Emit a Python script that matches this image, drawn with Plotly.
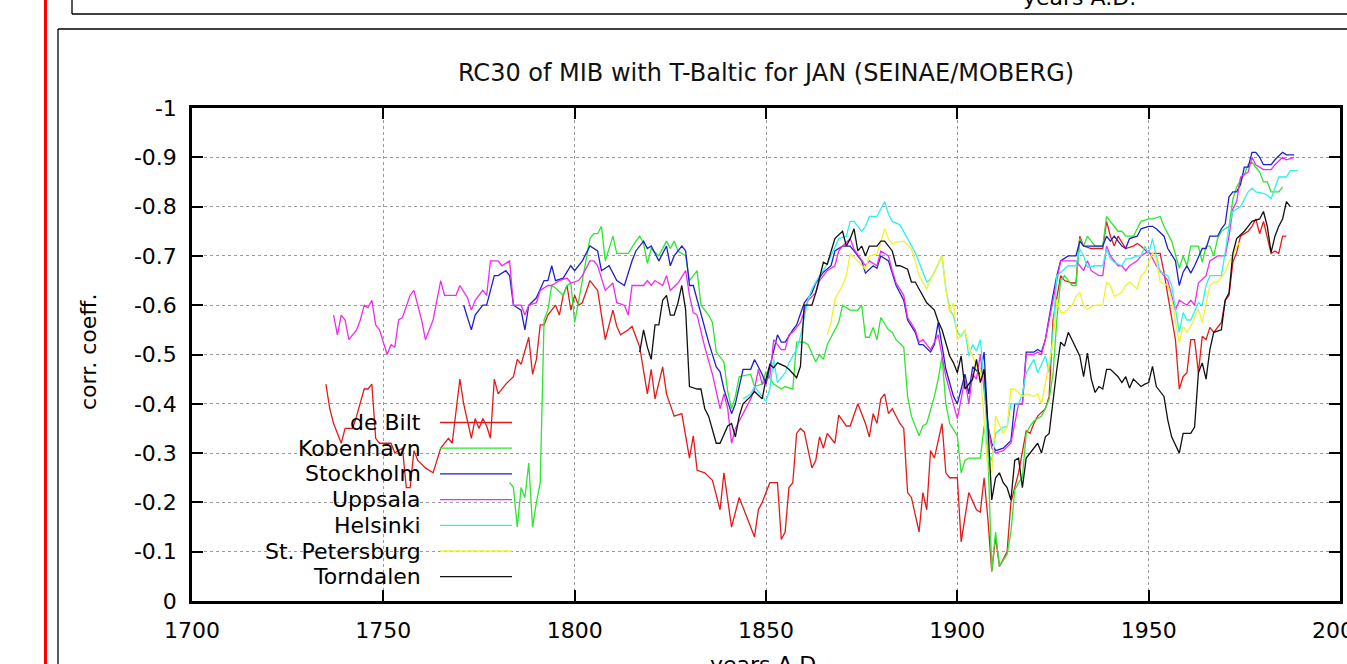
import plotly.graph_objects as go

# ---------------- data ----------------
X_TICKS = [1700, 1750, 1800, 1850, 1900, 1950, 2000]
X_TICK_TEXT = ["1700", "1750", "1800", "1850", "1900", "1950", "2000"]
Y_TICKS = [0, -0.1, -0.2, -0.3, -0.4, -0.5, -0.6, -0.7, -0.8, -0.9, -1]
Y_TICK_TEXT = ["0", "-0.1", "-0.2", "-0.3", "-0.4", "-0.5", "-0.6", "-0.7", "-0.8", "-0.9", "-1"]

SERIES_NAMES = ["de Bilt", "Kobenhavn", "Stockholm", "Uppsala", "Helsinki", "St. Petersburg", "Torndalen"]

DEBILT_YEARS = [1735,1736,1737,1739,1740,1742,1743,1744,1745,1746,
 1747,1748,1749,1750,1752,1753,1755,1756,1757,1758,
 1759,1761,1762,1763,1765,1767,1768,1769,1770,1771,
 1773,1774,1775,1776,1777,1778,1779,1780,1781,1782,
 1784,1785,1786,1788,1789,1790,1791,1792,1793,1795,
 1796,1797,1798,1799,1800,1801,1802,1804,1806,1808,
 1810,1811,1812,1814,1815,1817,1819,1820,1821,1823,
 1824,1826,1828,1830,1831,1832,1834,1836,1838,1839,
 1841,1842,1843,1845,1847,1848,1849,1851,1853,1854,
 1855,1856,1857,1858,1859,1860,1862,1863,1864,1865,
 1866,1868,1869,1871,1872,1874,1876,1877,1878,1879,
 1880,1881,1882,1883,1885,1886,1887,1888,1890,1891,
 1892,1893,1894,1896,1897,1898,1900,1901,1903,1905,
 1906,1907,1908,1909,1910,1911,1913,1914,1915,1916,
 1918,1919,1920,1921,1923,1924,1925,1927,1928,1930,
 1931,1932,1933,1935,1938,1939,1940,1941,1942,1944,
 1946,1947,1948,1950,1953,1954,1955,1957,1958,1959,
 1960,1961,1962,1963,1964,1965,1966,1967,1969,1970,
 1971,1972,1973,1974,1976,1977,1978,1979,1980,1981,
 1982,1983,1984,1985,1986]
DEBILT = [-0.44,-0.39,-0.36,-0.32,-0.35,-0.35,-0.375,-0.40,-0.43,-0.43,
 -0.44,-0.33,-0.32,-0.32,-0.32,-0.30,-0.31,-0.23,-0.23,-0.305,
 -0.285,-0.27,-0.265,-0.26,-0.31,-0.33,-0.32,-0.39,-0.45,-0.40,
 -0.33,-0.37,-0.35,-0.37,-0.355,-0.33,-0.45,-0.42,-0.43,-0.44,
 -0.455,-0.49,-0.48,-0.535,-0.46,-0.49,-0.56,-0.56,-0.58,-0.60,
 -0.58,-0.62,-0.64,-0.59,-0.62,-0.60,-0.605,-0.65,-0.63,-0.53,
 -0.59,-0.557,-0.54,-0.55,-0.557,-0.515,-0.42,-0.47,-0.41,-0.475,
 -0.42,-0.375,-0.38,-0.29,-0.335,-0.265,-0.26,-0.245,-0.185,-0.26,
 -0.15,-0.18,-0.21,-0.17,-0.13,-0.185,-0.20,-0.24,-0.24,-0.125,
 -0.14,-0.23,-0.24,-0.34,-0.35,-0.343,-0.27,-0.285,-0.333,-0.31,
 -0.34,-0.32,-0.377,-0.355,-0.355,-0.40,-0.36,-0.333,-0.38,-0.36,
 -0.41,-0.42,-0.38,-0.39,-0.36,-0.35,-0.22,-0.21,-0.14,-0.22,
 -0.185,-0.305,-0.29,-0.36,-0.26,-0.25,-0.25,-0.12,-0.22,-0.185,
 -0.18,-0.25,-0.165,-0.06,-0.13,-0.07,-0.10,-0.20,-0.23,-0.26,
 -0.345,-0.34,-0.36,-0.375,-0.39,-0.415,-0.57,-0.66,-0.65,-0.645,
 -0.645,-0.74,-0.72,-0.715,-0.715,-0.77,-0.74,-0.72,-0.74,-0.715,
 -0.72,-0.725,-0.72,-0.705,-0.705,-0.667,-0.62,-0.53,-0.43,-0.455,
 -0.463,-0.53,-0.53,-0.463,-0.537,-0.53,-0.555,-0.545,-0.565,-0.61,
 -0.62,-0.687,-0.707,-0.74,-0.75,-0.76,-0.775,-0.745,-0.77,-0.735,
 -0.705,-0.71,-0.705,-0.74,-0.74]

KOBENHAVN_YEARS = [1783,1784,1785,1786,1787,1788,1789,1790,1791,1792,
 1793,1794,1795,1797,1798,1799,1800,1801,1802,1804,
 1805,1806,1807,1808,1810,1811,1813,1814,1816,1817,
 1818,1819,1820,1822,1824,1825,1826,1827,1829,1830,
 1832,1833,1835,1836,1837,1839,1840,1841,1842,1843,
 1846,1847,1849,1850,1852,1854,1855,1857,1858,1860,
 1861,1863,1864,1865,1866,1867,1869,1870,1872,1874,
 1875,1876,1877,1878,1879,1880,1882,1883,1884,1886,
 1887,1888,1890,1891,1892,1894,1895,1896,1897,1898,
 1900,1901,1902,1903,1905,1906,1907,1908,1909,1910,
 1911,1913,1914,1915,1916,1917,1918,1919,1920,1922,
 1923,1924,1925,1926,1927,1928,1929,1930,1931,1932,
 1933,1934,1936,1938,1939,1940,1942,1943,1944,1946,
 1947,1948,1950,1951,1953,1954,1956,1958,1959,1960,
 1961,1963,1964,1965,1966,1967,1968,1969,1970,1971,
 1972,1973,1975,1976,1977,1979,1980,1981,1982,1984,
 1985]
KOBENHAVN = [-0.24,-0.23,-0.15,-0.23,-0.21,-0.28,-0.15,-0.20,-0.24,-0.57,
 -0.59,-0.64,-0.635,-0.62,-0.64,-0.645,-0.565,-0.605,-0.65,-0.735,
 -0.745,-0.745,-0.76,-0.69,-0.74,-0.705,-0.705,-0.705,-0.73,-0.74,
 -0.725,-0.685,-0.715,-0.70,-0.73,-0.715,-0.73,-0.71,-0.70,-0.65,
 -0.67,-0.60,-0.58,-0.565,-0.505,-0.485,-0.425,-0.39,-0.415,-0.455,
 -0.46,-0.435,-0.44,-0.465,-0.44,-0.43,-0.435,-0.43,-0.525,-0.525,
 -0.52,-0.485,-0.50,-0.49,-0.52,-0.535,-0.565,-0.60,-0.59,-0.59,
 -0.60,-0.535,-0.535,-0.555,-0.53,-0.575,-0.55,-0.545,-0.53,-0.515,
 -0.415,-0.375,-0.335,-0.355,-0.36,-0.415,-0.45,-0.495,-0.40,-0.36,
 -0.335,-0.26,-0.285,-0.29,-0.29,-0.29,-0.355,-0.30,-0.06,-0.14,
 -0.07,-0.095,-0.14,-0.225,-0.24,-0.25,-0.34,-0.355,-0.365,-0.375,
 -0.39,-0.41,-0.46,-0.57,-0.65,-0.66,-0.65,-0.64,-0.64,-0.735,
 -0.72,-0.74,-0.72,-0.72,-0.78,-0.77,-0.75,-0.75,-0.74,-0.74,
 -0.755,-0.77,-0.775,-0.775,-0.78,-0.76,-0.73,-0.675,-0.70,-0.68,
 -0.72,-0.72,-0.687,-0.72,-0.72,-0.70,-0.735,-0.75,-0.755,-0.76,
 -0.815,-0.84,-0.865,-0.885,-0.89,-0.87,-0.85,-0.85,-0.83,-0.83,
 -0.84]

STOCKHOLM_YEARS = [1771,1773,1774,1776,1777,1779,1780,1782,1783,1784,
 1786,1787,1788,1790,1792,1793,1794,1795,1797,1799,
 1800,1802,1804,1806,1807,1809,1811,1813,1815,1816,
 1818,1819,1820,1822,1824,1825,1826,1828,1829,1830,
 1831,1833,1835,1837,1838,1839,1841,1842,1844,1846,
 1847,1849,1850,1851,1853,1854,1855,1857,1858,1860,
 1862,1863,1865,1867,1868,1870,1872,1873,1875,1876,
 1878,1879,1880,1882,1883,1884,1886,1887,1889,1890,
 1891,1893,1894,1895,1897,1899,1900,1902,1903,1904,
 1906,1907,1908,1909,1910,1912,1914,1915,1917,1918,
 1920,1921,1922,1923,1925,1926,1927,1929,1931,1932,
 1933,1935,1938,1939,1940,1941,1943,1944,1945,1947,
 1948,1950,1951,1952,1954,1955,1957,1958,1959,1960,
 1961,1962,1964,1965,1966,1968,1969,1970,1971,1972,
 1973,1974,1975,1976,1977,1978,1979,1980,1982,1983,
 1985,1986,1988]
STOCKHOLM = [-0.60,-0.55,-0.58,-0.60,-0.60,-0.66,-0.66,-0.67,-0.66,-0.60,
 -0.59,-0.55,-0.60,-0.615,-0.65,-0.65,-0.68,-0.65,-0.655,-0.68,
 -0.67,-0.69,-0.72,-0.71,-0.67,-0.68,-0.65,-0.64,-0.69,-0.71,
 -0.73,-0.715,-0.72,-0.69,-0.72,-0.68,-0.70,-0.72,-0.71,-0.64,
 -0.64,-0.58,-0.525,-0.475,-0.465,-0.43,-0.38,-0.40,-0.47,-0.47,
 -0.49,-0.46,-0.44,-0.475,-0.54,-0.525,-0.525,-0.55,-0.56,-0.605,
 -0.625,-0.645,-0.667,-0.68,-0.71,-0.72,-0.72,-0.71,-0.69,-0.665,
 -0.68,-0.675,-0.70,-0.69,-0.665,-0.64,-0.61,-0.57,-0.545,-0.52,
 -0.52,-0.505,-0.52,-0.565,-0.47,-0.415,-0.40,-0.46,-0.42,-0.475,
 -0.46,-0.505,-0.355,-0.32,-0.305,-0.31,-0.325,-0.40,-0.40,-0.505,
 -0.505,-0.51,-0.505,-0.53,-0.62,-0.66,-0.69,-0.70,-0.70,-0.73,
 -0.72,-0.72,-0.72,-0.74,-0.73,-0.74,-0.72,-0.715,-0.735,-0.74,
 -0.755,-0.76,-0.76,-0.755,-0.74,-0.715,-0.69,-0.64,-0.667,-0.68,
 -0.665,-0.68,-0.715,-0.715,-0.74,-0.74,-0.755,-0.765,-0.82,-0.83,
 -0.83,-0.845,-0.88,-0.88,-0.91,-0.91,-0.90,-0.885,-0.885,-0.895,
 -0.91,-0.905,-0.905]

UPPSALA_YEARS = [1737,1738,1739,1740,1741,1743,1744,1745,1746,1747,
 1748,1749,1751,1752,1753,1754,1755,1757,1758,1760,
 1761,1763,1765,1766,1769,1770,1772,1773,1774,1776,
 1777,1778,1780,1781,1783,1784,1786,1787,1788,1790,
 1791,1793,1794,1796,1798,1799,1801,1802,1804,1805,
 1806,1808,1810,1811,1813,1814,1815,1818,1819,1820,
 1821,1823,1824,1825,1827,1829,1830,1831,1832,1834,
 1836,1838,1839,1840,1841,1842,1844,1846,1847,1848,
 1849,1851,1852,1854,1855,1856,1857,1859,1861,1863,
 1864,1866,1868,1869,1870,1872,1873,1875,1876,1877,
 1879,1880,1882,1883,1884,1886,1887,1889,1890,1891,
 1893,1894,1895,1897,1899,1900,1902,1903,1904,1905,
 1906,1908,1909,1910,1912,1914,1915,1916,1917,1918,
 1920,1921,1922,1923,1925,1926,1927,1929,1930,1931,
 1933,1934,1935,1937,1938,1939,1940,1942,1943,1944,
 1945,1947,1948,1950,1952,1953,1955,1957,1958,1960,
 1961,1962,1963,1965,1966,1968,1970,1971,1972,1973,
 1974,1976,1977,1978,1980,1982,1983,1985,1986,1988]
UPPSALA = [-0.58,-0.54,-0.58,-0.57,-0.53,-0.55,-0.57,-0.60,-0.595,-0.61,
 -0.56,-0.55,-0.50,-0.52,-0.515,-0.57,-0.575,-0.62,-0.63,-0.57,
 -0.53,-0.57,-0.65,-0.62,-0.62,-0.64,-0.615,-0.59,-0.61,-0.63,
 -0.62,-0.69,-0.69,-0.68,-0.69,-0.60,-0.60,-0.58,-0.60,-0.605,
 -0.63,-0.64,-0.64,-0.65,-0.655,-0.645,-0.65,-0.66,-0.69,-0.69,
 -0.68,-0.63,-0.645,-0.605,-0.60,-0.58,-0.64,-0.64,-0.65,-0.64,
 -0.65,-0.64,-0.66,-0.63,-0.645,-0.67,-0.62,-0.585,-0.58,-0.515,
 -0.46,-0.39,-0.42,-0.39,-0.32,-0.35,-0.38,-0.41,-0.43,-0.47,
 -0.44,-0.455,-0.53,-0.51,-0.51,-0.54,-0.545,-0.565,-0.61,-0.625,
 -0.65,-0.67,-0.68,-0.71,-0.72,-0.735,-0.714,-0.69,-0.68,-0.69,
 -0.68,-0.71,-0.70,-0.67,-0.645,-0.62,-0.575,-0.55,-0.525,-0.53,
 -0.51,-0.525,-0.54,-0.455,-0.395,-0.37,-0.45,-0.40,-0.46,-0.45,
 -0.50,-0.355,-0.31,-0.30,-0.305,-0.32,-0.36,-0.40,-0.40,-0.50,
 -0.50,-0.505,-0.50,-0.53,-0.61,-0.65,-0.69,-0.69,-0.69,-0.69,
 -0.67,-0.69,-0.67,-0.66,-0.66,-0.72,-0.70,-0.68,-0.68,-0.67,
 -0.68,-0.69,-0.70,-0.71,-0.68,-0.67,-0.65,-0.59,-0.61,-0.60,
 -0.61,-0.60,-0.645,-0.66,-0.69,-0.70,-0.70,-0.74,-0.795,-0.81,
 -0.86,-0.87,-0.90,-0.885,-0.875,-0.875,-0.885,-0.90,-0.895,-0.90]

HELSINKI_YEARS = [1844,1846,1847,1849,1850,1851,1852,1853,1855,1856,
 1858,1859,1861,1862,1864,1866,1868,1869,1871,1872,
 1873,1875,1876,1877,1879,1880,1881,1882,1883,1885,
 1887,1889,1890,1892,1893,1894,1896,1897,1898,1899,
 1900,1901,1902,1903,1904,1905,1906,1907,1908,1909,
 1910,1912,1913,1914,1916,1917,1918,1920,1921,1923,
 1924,1925,1926,1927,1929,1930,1931,1932,1933,1934,
 1936,1938,1939,1940,1941,1943,1944,1945,1947,1948,
 1949,1950,1951,1952,1953,1955,1956,1958,1959,1960,
 1961,1963,1964,1965,1966,1968,1969,1970,1971,1972,
 1974,1975,1976,1977,1978,1980,1981,1982,1983,1984,
 1986,1987,1989]
HELSINKI = [-0.41,-0.42,-0.435,-0.415,-0.405,-0.43,-0.49,-0.443,-0.463,-0.483,
 -0.51,-0.537,-0.612,-0.633,-0.66,-0.683,-0.718,-0.735,-0.74,-0.77,
 -0.77,-0.75,-0.76,-0.78,-0.78,-0.795,-0.81,-0.785,-0.77,-0.763,
 -0.735,-0.707,-0.687,-0.647,-0.653,-0.667,-0.70,-0.633,-0.592,-0.578,
 -0.545,-0.537,-0.55,-0.497,-0.52,-0.507,-0.53,-0.45,-0.30,-0.285,
 -0.34,-0.353,-0.353,-0.40,-0.40,-0.42,-0.463,-0.49,-0.463,-0.497,
 -0.463,-0.545,-0.66,-0.667,-0.68,-0.68,-0.68,-0.714,-0.70,-0.677,
 -0.68,-0.68,-0.714,-0.694,-0.687,-0.68,-0.694,-0.694,-0.70,-0.70,
 -0.72,-0.704,-0.735,-0.70,-0.667,-0.66,-0.64,-0.545,-0.585,-0.57,
 -0.57,-0.605,-0.60,-0.64,-0.66,-0.66,-0.66,-0.707,-0.76,-0.79,
 -0.80,-0.815,-0.83,-0.837,-0.83,-0.827,-0.823,-0.816,-0.837,-0.86,
 -0.86,-0.873,-0.873]

PETERSBURG_YEARS = [1866,1867,1868,1870,1871,1872,1873,1875,1876,1877,
 1879,1880,1881,1882,1883,1884,1886,1888,1889,1890,
 1892,1893,1894,1896,1897,1898,1899,1900,1902,1903,
 1904,1905,1906,1908,1909,1910,1912,1913,1914,1915,
 1917,1918,1920,1921,1922,1923,1925,1926,1927,1928,
 1930,1931,1932,1933,1934,1936,1938,1939,1940,1941,
 1943,1944,1945,1947,1948,1949,1951,1952,1953,1955,
 1956,1958,1959,1960,1961,1963,1964,1966,1967,1968,
 1970,1971,1972,1973,1974]
PETERSBURG = [-0.54,-0.565,-0.612,-0.64,-0.66,-0.704,-0.698,-0.68,-0.673,-0.70,
 -0.704,-0.728,-0.755,-0.735,-0.724,-0.728,-0.73,-0.714,-0.69,-0.66,
 -0.633,-0.653,-0.667,-0.70,-0.633,-0.585,-0.605,-0.53,-0.55,-0.517,
 -0.497,-0.476,-0.47,-0.265,-0.26,-0.375,-0.34,-0.353,-0.43,-0.43,
 -0.415,-0.42,-0.415,-0.42,-0.40,-0.443,-0.525,-0.612,-0.585,-0.585,
 -0.60,-0.618,-0.626,-0.60,-0.592,-0.60,-0.60,-0.647,-0.64,-0.618,
 -0.626,-0.64,-0.647,-0.633,-0.66,-0.667,-0.707,-0.694,-0.647,-0.64,
 -0.612,-0.524,-0.557,-0.545,-0.557,-0.592,-0.565,-0.64,-0.647,-0.647,
 -0.667,-0.687,-0.70,-0.72,-0.728]

TORNDALEN_YEARS = [1817,1818,1819,1820,1821,1822,1823,1824,1825,1826,
 1827,1828,1829,1830,1832,1833,1834,1835,1837,1838,
 1840,1841,1842,1843,1844,1846,1847,1849,1850,1851,
 1852,1853,1855,1856,1858,1859,1860,1862,1863,1865,
 1866,1867,1868,1870,1871,1872,1873,1874,1875,1876,
 1877,1879,1880,1881,1883,1884,1885,1887,1888,1889,
 1890,1892,1894,1895,1896,1898,1899,1900,1901,1902,
 1904,1905,1906,1907,1908,1909,1910,1911,1912,1913,
 1914,1915,1916,1917,1918,1920,1921,1922,1923,1924,
 1925,1926,1927,1928,1929,1930,1932,1933,1934,1935,
 1936,1937,1938,1939,1940,1942,1943,1944,1945,1946,
 1948,1949,1950,1951,1952,1954,1955,1956,1958,1959,
 1961,1962,1963,1964,1965,1966,1967,1969,1970,1971,
 1972,1973,1975,1976,1977,1979,1980,1981,1982,1983,
 1984,1985,1986,1987]
TORNDALEN = [-0.505,-0.55,-0.515,-0.49,-0.56,-0.56,-0.61,-0.62,-0.58,-0.58,
 -0.605,-0.64,-0.59,-0.435,-0.43,-0.43,-0.39,-0.375,-0.32,-0.32,
 -0.355,-0.36,-0.333,-0.375,-0.40,-0.415,-0.425,-0.41,-0.45,-0.48,
 -0.473,-0.483,-0.476,-0.47,-0.453,-0.476,-0.60,-0.60,-0.625,-0.687,
 -0.683,-0.707,-0.735,-0.75,-0.72,-0.735,-0.755,-0.71,-0.72,-0.70,
 -0.72,-0.72,-0.73,-0.73,-0.71,-0.68,-0.68,-0.673,-0.647,-0.647,
 -0.633,-0.605,-0.59,-0.567,-0.55,-0.497,-0.483,-0.463,-0.497,-0.43,
 -0.45,-0.49,-0.443,-0.47,-0.353,-0.205,-0.25,-0.26,-0.24,-0.23,
 -0.205,-0.285,-0.29,-0.23,-0.29,-0.31,-0.32,-0.30,-0.333,-0.34,
 -0.408,-0.47,-0.525,-0.517,-0.545,-0.53,-0.497,-0.455,-0.503,-0.45,
 -0.423,-0.435,-0.43,-0.47,-0.47,-0.455,-0.443,-0.455,-0.432,-0.45,
 -0.435,-0.44,-0.443,-0.476,-0.435,-0.415,-0.367,-0.333,-0.30,-0.34,
 -0.34,-0.353,-0.463,-0.483,-0.45,-0.51,-0.545,-0.55,-0.61,-0.625,
 -0.705,-0.735,-0.75,-0.76,-0.77,-0.775,-0.79,-0.76,-0.707,-0.74,
 -0.76,-0.775,-0.81,-0.80]

# ---------------- styling / layout ----------------
COLORS = ["#e41a1a", "#2ee62e", "#1f1fcc", "#ee2cee", "#2ef0f0", "#f2f22a", "#111111"]
FONT = "DejaVu Sans"

W, H = 1347, 664
PL, PR, PT, PB = 192, 1340, 108, 601  # plot area box, in pixels


def px(xp):
    return (xp - PL) / (PR - PL)


def py(yp):
    return (PB - yp) / (PB - PT)


fig = go.Figure()
series = [
    (DEBILT_YEARS, DEBILT),
    (KOBENHAVN_YEARS, KOBENHAVN),
    (STOCKHOLM_YEARS, STOCKHOLM),
    (UPPSALA_YEARS, UPPSALA),
    (HELSINKI_YEARS, HELSINKI),
    (PETERSBURG_YEARS, PETERSBURG),
    (TORNDALEN_YEARS, TORNDALEN),
]
for name, (xs, ys), col in zip(SERIES_NAMES, series, COLORS):
    fig.add_trace(go.Scatter(x=xs, y=ys, mode="lines", name=name,
                             line=dict(color=col, width=1.3), showlegend=False))

axis_common = dict(
    showline=True, linecolor="black", linewidth=2.5, mirror="ticks",
    ticks="inside", ticklen=11, tickwidth=2, tickcolor="black",
    showgrid=True, gridcolor="#9a9a9a", gridwidth=1, griddash="dot",
    zeroline=False, tickfont=dict(family=FONT, size=22, color="black"),
    ticklabeloverflow="allow", automargin=False,
)
fig.update_xaxes(range=[1700, 2000], tickvals=X_TICKS, ticktext=X_TICK_TEXT,
                 ticklabelstandoff=8, **axis_common)
fig.update_yaxes(range=[0, -1], tickvals=Y_TICKS, ticktext=Y_TICK_TEXT,
                 ticklabelstandoff=8, **axis_common)

shapes = []
# red page margin line
shapes.append(dict(type="line", xref="paper", yref="paper", x0=px(45.5), x1=px(45.5),
                   y0=py(0), y1=py(664), line=dict(color="#ff0000", width=3)))
# previous figure frame (bottom edge)
shapes.append(dict(type="line", xref="paper", yref="paper", x0=px(72), x1=px(72),
                   y0=py(0), y1=py(14), line=dict(color="black", width=1.3)))
shapes.append(dict(type="line", xref="paper", yref="paper", x0=px(72), x1=px(1347),
                   y0=py(14), y1=py(14), line=dict(color="black", width=1.3)))
# this figure frame
shapes.append(dict(type="line", xref="paper", yref="paper", x0=px(58), x1=px(58),
                   y0=py(29), y1=py(664), line=dict(color="black", width=1.3)))
shapes.append(dict(type="line", xref="paper", yref="paper", x0=px(58), x1=px(1347),
                   y0=py(29), y1=py(29), line=dict(color="black", width=1.3)))

annotations = []
LEG_TEXT_RIGHT, LEG_X0, LEG_X1, LEG_Y0, LEG_DY = 423, 440, 512, 422.5, 25.7
for i, (name, col) in enumerate(zip(SERIES_NAMES, COLORS)):
    yy = LEG_Y0 + i * LEG_DY
    shapes.append(dict(type="line", xref="paper", yref="paper", x0=px(LEG_X0), x1=px(LEG_X1),
                       y0=py(yy), y1=py(yy), line=dict(color=col, width=1.3)))
    annotations.append(dict(text=name, xref="paper", yref="paper", x=px(LEG_TEXT_RIGHT), y=py(yy),
                            xanchor="right", yanchor="middle", showarrow=False,
                            font=dict(family=FONT, size=22, color="black")))

annotations.append(dict(text="corr. coeff.", xref="paper", yref="paper", x=px(88), y=py(352),
                        xanchor="center", yanchor="middle", textangle=-90, showarrow=False,
                        font=dict(family=FONT, size=22, color="black")))
annotations.append(dict(text="years A.D.", xref="paper", yref="paper", x=px(766), y=py(664),
                        xanchor="center", yanchor="middle", showarrow=False,
                        font=dict(family=FONT, size=22, color="black")))
annotations.append(dict(text="years A.D.", xref="paper", yref="paper", x=px(1079), y=py(-2),
                        xanchor="center", yanchor="middle", showarrow=False,
                        font=dict(family=FONT, size=22, color="black")))

fig.update_layout(
    width=W, height=H,
    margin=dict(l=PL, r=W - PR, t=PT, b=H - PB, pad=0, autoexpand=False),
    paper_bgcolor="white", plot_bgcolor="white",
    title=dict(text="RC30 of MIB with T-Baltic for JAN (SEINAE/MOBERG)",
               x=px(766), xref="paper", xanchor="center",
               y=1 - 73 / H, yref="container", yanchor="middle",
               font=dict(family=FONT, size=24, color="#111111")),
    shapes=shapes, annotations=annotations,
)

# the page is photographed at exactly the figure size: drop the default body margin
fig.write_html("out.html",
               config={"displayModeBar": False},
               post_script="document.body.style.margin='0px';document.body.style.overflow='hidden';")
